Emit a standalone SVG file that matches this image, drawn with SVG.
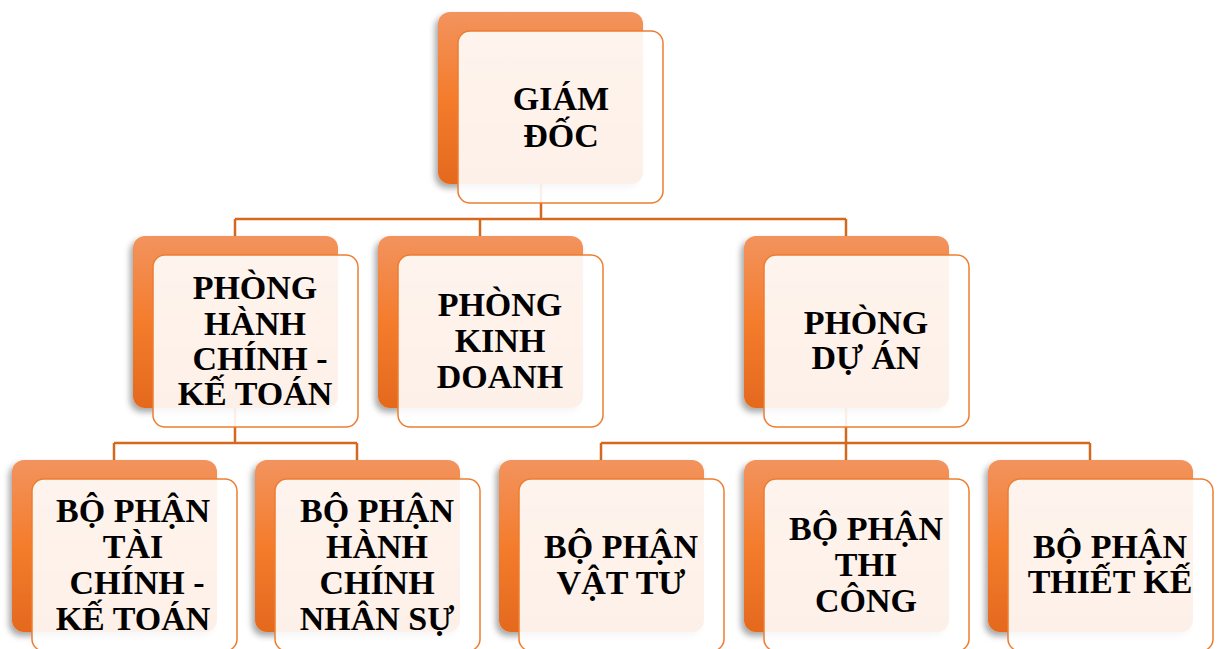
<svg xmlns="http://www.w3.org/2000/svg" width="1220" height="649" viewBox="0 0 1220 649">
<style>
.back{fill:url(#og);filter:url(#sh)}
.front{fill:#fff;fill-opacity:0.9;stroke:#ED7D31;stroke-width:1.5}
.t{font-family:"Liberation Serif","Times New Roman",serif;font-weight:bold;font-size:34px;fill:#000;text-anchor:middle}
.c{fill:none;stroke:#D2691E;stroke-width:2.5}
</style>
<defs>
<linearGradient id="og" x1="0" y1="0" x2="0" y2="1">
<stop offset="0" stop-color="#F2935E"/>
<stop offset="0.5" stop-color="#F47C2C"/>
<stop offset="1" stop-color="#E4691E"/>
</linearGradient>
<filter id="sh" x="-10%" y="-10%" width="120%" height="125%">
<feDropShadow dx="-3" dy="4" stdDeviation="3" flood-color="#000" flood-opacity="0.35"/>
</filter>
</defs>
<rect width="1220" height="649" fill="#fff"/>
<g id="connectors">
<path class="c" d="M541 184V219M235 219H846M235 219V236M480 219V236M846 219V236"/>
<path class="c" d="M235 408V443M114 443H357M114 443V460M357 443V460"/>
<path class="c" d="M846 408V443M601 443H1090M601 443V460M846 443V460M1090 443V460"/>
</g>
<g id="giam-doc">
<rect class="back" x="438" y="12" width="205" height="172" rx="12"/>
<rect class="front" x="458" y="31" width="205" height="172" rx="12"/>
<text class="t" x="561" y="110">GIÁM</text>
<text class="t" x="561" y="147">ĐỐC</text>
</g>
<g id="phong-hanh-chinh-ke-toan">
<rect class="back" x="133" y="236" width="205" height="172" rx="12"/>
<rect class="front" x="153" y="255" width="205" height="172" rx="12"/>
<text class="t" x="255" y="299">PHÒNG</text>
<text class="t" x="255" y="335">HÀNH</text>
<text class="t" x="260" y="370">CHÍNH -</text>
<text class="t" x="255" y="405">KẾ TOÁN</text>
</g>
<g id="phong-kinh-doanh">
<rect class="back" x="378" y="236" width="205" height="172" rx="12"/>
<rect class="front" x="398" y="255" width="205" height="172" rx="12"/>
<text class="t" x="500" y="316">PHÒNG</text>
<text class="t" x="500" y="352">KINH</text>
<text class="t" x="500" y="388">DOANH</text>
</g>
<g id="phong-du-an">
<rect class="back" x="744" y="236" width="205" height="172" rx="12"/>
<rect class="front" x="764" y="255" width="205" height="172" rx="12"/>
<text class="t" x="866" y="334">PHÒNG</text>
<text class="t" x="866" y="369">DỰ ÁN</text>
</g>
<g id="bo-phan-tai-chinh-ke-toan">
<rect class="back" x="12" y="460" width="205" height="172" rx="12"/>
<rect class="front" x="32" y="479" width="205" height="172" rx="12"/>
<text class="t" x="133" y="522">BỘ PHẬN</text>
<text class="t" x="133" y="558">TÀI</text>
<text class="t" x="137" y="594">CHÍNH -</text>
<text class="t" x="133" y="630">KẾ TOÁN</text>
</g>
<g id="bo-phan-hanh-chinh-nhan-su">
<rect class="back" x="255" y="460" width="205" height="172" rx="12"/>
<rect class="front" x="275" y="479" width="205" height="172" rx="12"/>
<text class="t" x="377" y="522">BỘ PHẬN</text>
<text class="t" x="377" y="558">HÀNH</text>
<text class="t" x="377" y="594">CHÍNH</text>
<text class="t" x="377" y="630">NHÂN SỰ</text>
</g>
<g id="bo-phan-vat-tu">
<rect class="back" x="499" y="460" width="205" height="172" rx="12"/>
<rect class="front" x="519" y="479" width="205" height="172" rx="12"/>
<text class="t" x="621" y="558">BỘ PHẬN</text>
<text class="t" x="621" y="594">VẬT TƯ</text>
</g>
<g id="bo-phan-thi-cong">
<rect class="back" x="744" y="460" width="205" height="172" rx="12"/>
<rect class="front" x="764" y="479" width="205" height="172" rx="12"/>
<text class="t" x="866" y="540">BỘ PHẬN</text>
<text class="t" x="866" y="576">THI</text>
<text class="t" x="866" y="612">CÔNG</text>
</g>
<g id="bo-phan-thiet-ke">
<rect class="back" x="988" y="460" width="205" height="172" rx="12"/>
<rect class="front" x="1008" y="479" width="205" height="172" rx="12"/>
<text class="t" x="1110" y="558">BỘ PHẬN</text>
<text class="t" x="1110" y="593">THIẾT KẾ</text>
</g>
</svg>
